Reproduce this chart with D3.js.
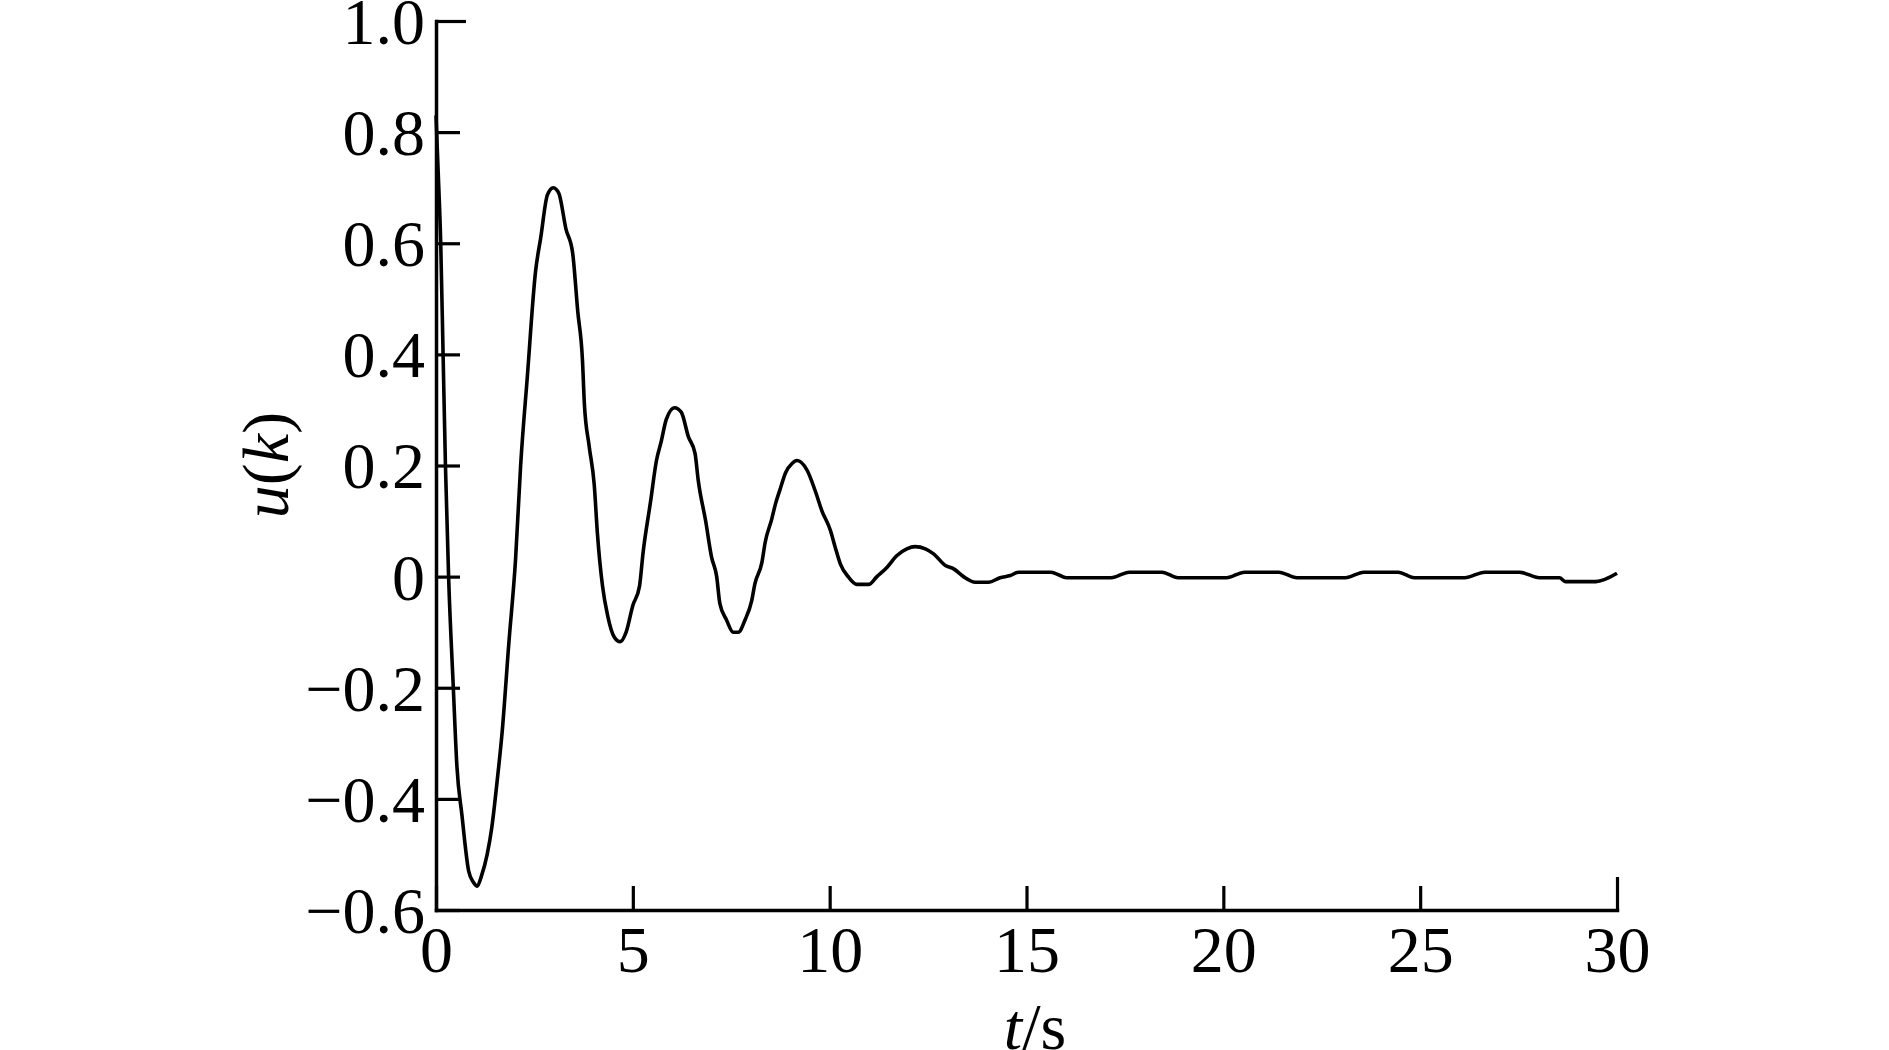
<!DOCTYPE html>
<html>
<head>
<meta charset="utf-8">
<script src="https://cdn.jsdelivr.net/npm/d3@7"></script>
<style>
  html, body { margin: 0; padding: 0; background: #fff; }
  svg { display: block; }
  text { font-family: "Liberation Serif", "Times New Roman", serif; fill: #000; }
</style>
</head>
<body>
<svg id="chart" width="1889" height="1050"></svg>
<script>
// ---- data ----
const timeS = [0.00, 0.06, 0.12, 0.18, 0.24, 0.32, 0.44, 0.53, 0.66, 0.83, 0.95, 1.05, 1.15, 1.30, 1.42, 1.55, 1.68, 1.85,
  2.02, 2.15, 2.32, 2.53, 2.66, 2.83, 2.98, 3.12, 3.30, 3.47, 3.60, 3.72, 3.77, 3.89, 4.02, 4.10, 4.23, 4.36, 4.53, 4.68,
  4.83, 5.00, 5.17, 5.26, 5.45, 5.60, 5.72, 5.85, 6.06, 6.23, 6.41, 6.58, 6.66, 6.85, 7.00, 7.13, 7.21, 7.38, 7.55, 7.68,
  7.85, 8.02, 8.10, 8.28, 8.36, 8.53, 8.62, 8.74, 8.88, 9.05, 9.17, 9.43, 9.63, 9.80, 10.02, 10.14, 10.27, 10.48, 10.69,
  10.99, 11.20, 11.46, 11.71, 11.96, 12.17, 12.43, 12.64, 12.94, 13.15, 13.40, 13.70, 14.04, 14.33, 14.59, 14.80, 15.62,
  16.02, 17.15, 17.61, 18.44, 18.85, 20.08, 20.54, 21.41, 21.87, 23.10, 23.57, 24.44, 24.85, 26.13, 26.64, 27.52, 28.03,
  28.54, 28.69, 29.46, 30.00];
const uValues = [0.83, 0.72, 0.60, 0.40, 0.20, 0.00, -0.20, -0.34, -0.43, -0.53, -0.55, -0.557, -0.54, -0.50, -0.45, -0.37, -0.28, -0.12,
  0.03, 0.20, 0.36, 0.55, 0.61, 0.687, 0.70, 0.69, 0.626, 0.583, 0.478, 0.39, 0.31, 0.235, 0.165, 0.078, -0.017, -0.07, -0.109, -0.117,
  -0.10, -0.052, -0.017, 0.043, 0.135, 0.209, 0.243, 0.283, 0.304, 0.296, 0.252, 0.222, 0.174, 0.10, 0.035, 0.00, -0.048, -0.078, -0.10, -0.10,
  -0.078, -0.043, -0.013, 0.026, 0.061, 0.104, 0.13, 0.157, 0.187, 0.204, 0.209, 0.191, 0.155, 0.119, 0.083, 0.053, 0.023, -0.001, -0.014,
  -0.014, 0.000, 0.017, 0.038, 0.050, 0.054, 0.050, 0.041, 0.020, 0.014, 0.000, -0.010, -0.010, -0.002, 0.002, 0.008, 0.008,
  -0.002, -0.002, 0.008, 0.008, -0.002, -0.002, 0.008, 0.008, -0.002, -0.002, 0.008, 0.008, -0.002, -0.002, 0.008, 0.008, -0.002,
  -0.002, -0.009, -0.009, 0.006];
const xTicks = [0, 5, 10, 15, 20, 25, 30];
const xTickLabels = ["0", "5", "10", "15", "20", "25", "30"];
const yTicks = [1.0, 0.8, 0.6, 0.4, 0.2, 0, -0.2, -0.4, -0.6];
const yTickLabels = ["1.0", "0.8", "0.6", "0.4", "0.2", "0", "\u22120.2", "\u22120.4", "\u22120.6"];

(function () {
// ---- layout ----
const plotLeft = 436, plotRight = 1617, plotTop = 21, plotBottom = 910;
const fontPx = 66;

const svg = d3.select("#chart");
const x = d3.scaleLinear().domain([0, 30]).range([plotLeft, plotRight]);
const y = d3.scaleLinear().domain([-0.6, 1.0]).range([plotBottom, plotTop]);

// y axis (ticks pointing inward)
const yAxis = d3.axisLeft(y)
  .tickValues(yTicks)
  .tickFormat((d, i) => yTickLabels[i])
  .tickSize(-24)
  .tickSizeOuter(0)
  .tickPadding(11);
const gy = svg.append("g").attr("transform", `translate(${plotLeft},0)`).call(yAxis);

// x axis (ticks pointing inward)
const xAxis = d3.axisBottom(x)
  .tickValues(xTicks)
  .tickFormat((d, i) => xTickLabels[i])
  .tickSize(-24)
  .tickSizeOuter(0)
  .tickPadding(15);
const gx = svg.append("g").attr("transform", `translate(0,${plotBottom})`).call(xAxis);

[gx, gy].forEach(g => {
  g.select(".domain").attr("stroke", "#000").attr("stroke-width", 3.5).attr("stroke-linecap", "square");
  g.selectAll(".tick line").attr("stroke", "#000").attr("stroke-width", 3.2);
  g.selectAll(".tick text")
    .attr("font-family", '"Liberation Serif", "Times New Roman", serif')
    .attr("font-size", fontPx)
    .attr("fill", "#000");
});
gy.selectAll(".tick text").attr("dy", "0.34em");
// slightly longer end ticks as in the reference
gy.selectAll(".tick").filter(d => d === 1.0).select("line").attr("x2", 30);
gx.selectAll(".tick").filter(d => d === 30).select("line").attr("y2", -33);

// curve
const pts = timeS.map((t, i) => [t, uValues[i]]);
const line = d3.line()
  .x(d => x(d[0]))
  .y(d => y(d[1]))
  .curve(d3.curveMonotoneX);
svg.append("path")
  .datum(pts)
  .attr("d", line)
  .attr("fill", "none")
  .attr("stroke", "#000")
  .attr("stroke-width", 3.6)
  .attr("stroke-linejoin", "round");

// axis titles
const xt = svg.append("text")
  .attr("x", 1035).attr("y", 1049)
  .attr("text-anchor", "middle")
  .attr("font-size", fontPx);
xt.append("tspan").attr("font-style", "italic").text("t");
xt.append("tspan").text("/s");

const yt = svg.append("text")
  .attr("transform", "translate(288,465) rotate(-90)")
  .attr("text-anchor", "middle")
  .attr("font-size", fontPx);
yt.append("tspan").attr("font-style", "italic").text("u");
yt.append("tspan").text("(");
yt.append("tspan").attr("font-style", "italic").text("k");
yt.append("tspan").text(")");
})();
</script>
</body>
</html>
